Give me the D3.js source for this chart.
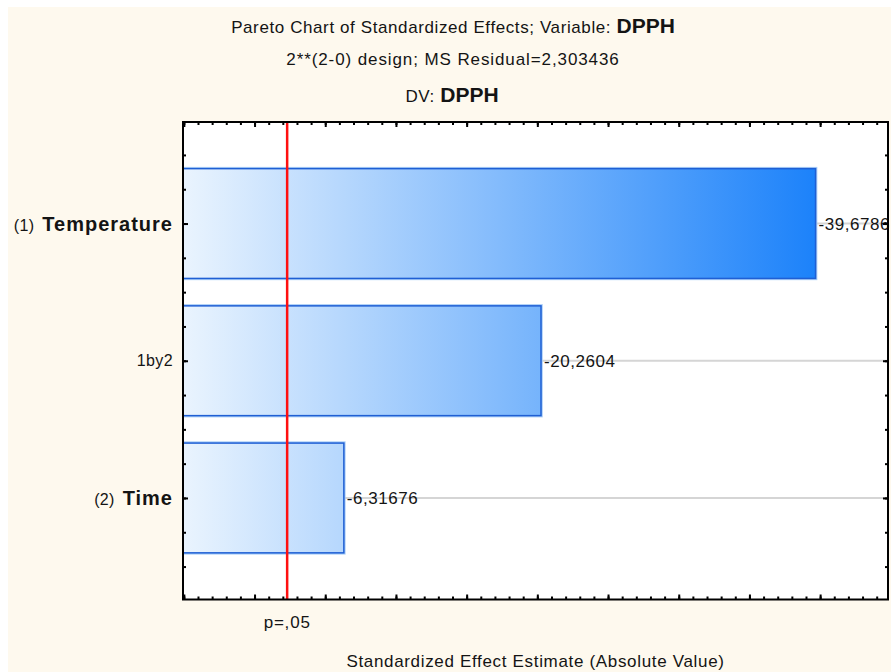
<!DOCTYPE html>
<html><head><meta charset="utf-8">
<script src="https://cdn.jsdelivr.net/npm/d3@7"></script>
<style>
body{margin:0;background:#fff;}
svg{display:block;}
text{font-family:"Liberation Sans",Arial,sans-serif;fill:#141414;}
</style>
</head><body>
<svg id="c" width="891" height="672"></svg>
<script>
// ---- data ----
const categories = ["Temperature", "1by2", "Time"];
const categoryPrefixes = ["(1)", "", "(2)"];
const categoryBold = [true, false, true];
const effects = [-39.6786, -20.2604, -6.31676];
const effectLabels = ["-39,6786", "-20,2604", "-6,31676"];
const criticalValue = 2.306;
const criticalLabel = "p=,05";
const titleLine1 = "Pareto Chart of Standardized Effects; Variable: ";
const titleVar = "DPPH";
const titleLine2 = "2**(2-0) design; MS Residual=2,303436";
const titleLine3 = "DV: ";
const xAxisTitle = "Standardized Effect Estimate (Absolute Value)";
const xDomain = [-5.06, 44.8];
const xMinorTicks = d3.range(-5, 45, 1);
const xMajorTicks = d3.range(-5, 45, 5);
const yPositions = [1, 2, 3];
const yDomain = [0.26, 3.74];
const yMinorTicks = d3.range(0.5, 3.51, 0.25);

// ---- layout ----
const svg = d3.select("#c");
const L = 183, R = 888, T = 122, B = 599.5;
const x = d3.scaleLinear().domain(xDomain).range([L, R]);
const y = d3.scaleLinear().domain(yDomain).range([T, B]);
const half = 0.4;

svg.append("rect").attr("x", 8).attr("y", 7).attr("width", 900).attr("height", 700).attr("fill", "#fef9ee");
svg.append("rect").attr("x", L).attr("y", T).attr("width", R - L).attr("height", B - T).attr("fill", "#fff");

const defs = svg.append("defs");
const grad = defs.append("linearGradient").attr("id", "bg").attr("gradientUnits", "userSpaceOnUse")
  .attr("x1", x(xDomain[0])).attr("x2", x(d3.max(effects, d => Math.abs(d)))).attr("y1", 0).attr("y2", 0);
grad.append("stop").attr("offset", 0).attr("stop-color", "#eaf4fe");
grad.append("stop").attr("offset", 1).attr("stop-color", "#1c82fa");
defs.append("clipPath").attr("id", "clip").append("rect").attr("x", L).attr("y", T).attr("width", R - L).attr("height", B - T);

const plot = svg.append("g").attr("clip-path", "url(#clip)");
// gridlines
plot.selectAll(".grid").data(yPositions).enter().append("line")
  .attr("x1", L).attr("x2", R).attr("y1", d => y(d)).attr("y2", d => y(d))
  .attr("stroke", "#d5d5d5").attr("stroke-width", 2);
// bars halo
plot.selectAll(".halo").data(effects).enter().append("rect")
  .attr("x", x(xDomain[0])).attr("y", (d, i) => y(yPositions[i] - half))
  .attr("width", d => x(Math.abs(d)) - x(xDomain[0])).attr("height", y(1 + half) - y(1 - half))
  .attr("fill", "none").attr("stroke", "#a9cdf7").attr("stroke-width", 3.5);
plot.selectAll(".bar").data(effects).enter().append("rect")
  .attr("x", x(xDomain[0])).attr("y", (d, i) => y(yPositions[i] - half))
  .attr("width", d => x(Math.abs(d)) - x(xDomain[0])).attr("height", y(1 + half) - y(1 - half))
  .attr("fill", "url(#bg)").attr("stroke", "#1f5fd4").attr("stroke-width", 1.5);
// critical line
plot.append("line").attr("x1", x(criticalValue)).attr("x2", x(criticalValue)).attr("y1", T).attr("y2", B)
  .attr("stroke", "#ff1010").attr("stroke-width", 2.5);
// value labels
svg.selectAll(".val").data(effects).enter().append("text")
  .attr("x", d => x(Math.abs(d)) + 3).attr("y", (d, i) => y(yPositions[i]) + 6)
  .attr("font-size", 17).attr("letter-spacing", 0.55).text((d, i) => effectLabels[i]);

// axes ticks (inside)
function styleAxis(g) { g.select(".domain").remove(); g.selectAll("line").attr("stroke", "#000").attr("stroke-width", 2); g.selectAll("text").remove(); }
svg.append("g").attr("transform", `translate(0,${B})`).call(d3.axisTop(x).tickValues(xMinorTicks).tickSize(3).tickFormat("")).call(styleAxis);
svg.append("g").attr("transform", `translate(0,${B})`).call(d3.axisTop(x).tickValues(xMajorTicks).tickSize(5).tickFormat("")).call(styleAxis);
svg.append("g").attr("transform", `translate(0,${T})`).call(d3.axisBottom(x).tickValues(xMinorTicks).tickSize(3).tickFormat("")).call(styleAxis);
svg.append("g").attr("transform", `translate(0,${T})`).call(d3.axisBottom(x).tickValues(xMajorTicks).tickSize(5).tickFormat("")).call(styleAxis);
svg.append("g").attr("transform", `translate(${L},0)`).call(d3.axisRight(y).tickValues(yMinorTicks).tickSize(3).tickFormat("")).call(styleAxis);
svg.append("g").attr("transform", `translate(${L},0)`).call(d3.axisRight(y).tickValues(yPositions).tickSize(5).tickFormat("")).call(styleAxis);
svg.append("g").attr("transform", `translate(${R},0)`).call(d3.axisLeft(y).tickValues(yMinorTicks).tickSize(3).tickFormat("")).call(styleAxis);
svg.append("g").attr("transform", `translate(${R},0)`).call(d3.axisLeft(y).tickValues(yPositions).tickSize(5).tickFormat("")).call(styleAxis);

// frame
svg.append("rect").attr("x", L).attr("y", T).attr("width", R - L).attr("height", B - T)
  .attr("fill", "none").attr("stroke", "#000").attr("stroke-width", 2);

// category labels
const cl = svg.selectAll(".cat").data(categories).enter().append("text")
  .attr("x", 173).attr("y", (d, i) => y(yPositions[i]) + (categoryBold[i] ? 7 : 5.5))
  .attr("text-anchor", "end");
cl.append("tspan").attr("font-size", 16).attr("letter-spacing", 0.3).text((d, i) => categoryPrefixes[i]);
cl.append("tspan").attr("dx", (d, i) => categoryPrefixes[i] ? 8 : 0)
  .attr("font-size", (d, i) => categoryBold[i] ? 20 : 16)
  .attr("font-weight", (d, i) => categoryBold[i] ? "bold" : "normal")
  .attr("letter-spacing", (d, i) => categoryBold[i] ? 1.0 : 0.4).text(d => d);

// p label
svg.append("text").attr("x", x(criticalValue)).attr("y", 628).attr("text-anchor", "middle")
  .attr("font-size", 17).attr("letter-spacing", 0.8).text(criticalLabel);
// x title
svg.append("text").attr("x", (L + R) / 2).attr("y", 667).attr("text-anchor", "middle")
  .attr("font-size", 17).attr("letter-spacing", 0.67).text(xAxisTitle);

// titles
const t1 = svg.append("text").attr("x", 453).attr("y", 33).attr("text-anchor", "middle");
t1.append("tspan").attr("font-size", 17).attr("letter-spacing", 0.6).text(titleLine1);
t1.append("tspan").attr("font-size", 21).attr("font-weight", "bold").text(titleVar);
svg.append("text").attr("x", 453).attr("y", 65).attr("text-anchor", "middle")
  .attr("font-size", 17).attr("letter-spacing", 0.9).text(titleLine2);
const t3 = svg.append("text").attr("x", 452).attr("y", 102).attr("text-anchor", "middle");
t3.append("tspan").attr("font-size", 17).attr("letter-spacing", 0.6).text(titleLine3);
t3.append("tspan").attr("font-size", 21).attr("font-weight", "bold").text(titleVar);
</script>
</body></html>
